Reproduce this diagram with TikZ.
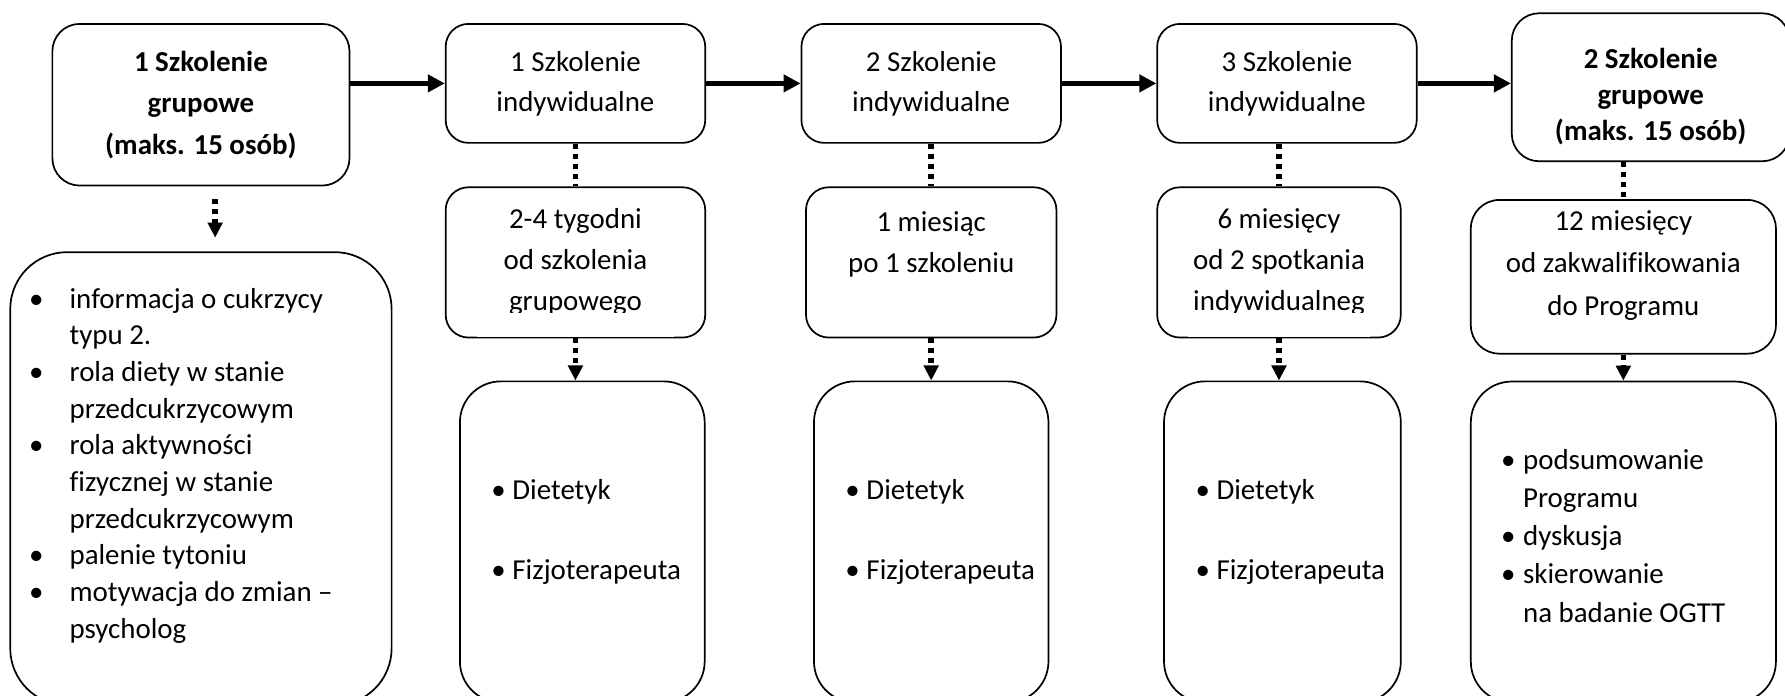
\documentclass[tikz,border=0pt]{standalone}
\usepackage{fontspec}
\setmainfont{Carlito}[Ligatures=NoCommon]
\usetikzlibrary{arrows.meta, positioning, calc}
\newcommand{\itm}[1]{\makebox[#1][l]{\textbullet}}

\begin{document}
\begin{tikzpicture}[
    x=0.5pt, y=-0.5pt,
    >={Triangle[length=7.5pt, width=7.5pt]},
    box/.style={draw, line width=0.75pt, rounded corners=10pt, align=center, inner sep=0pt},
    grpbox/.style={box, rounded corners=12pt, font=\bfseries\fontsize{12.7}{18.3}\selectfont},
    indbox/.style={box, minimum width=114pt, minimum height=52.25pt, font=\fontsize{12.7}{17.5}\selectfont},
    timebox/.style={box, minimum height=66pt, font=\fontsize{12.7}{18}\selectfont},
    listbox/.style={draw, line width=0.75pt, rounded corners=18pt, minimum height=141pt},
    list/.style={inner sep=0pt, anchor=north west, align=left, font=\fontsize{12.7}{16.1}\selectfont},
    flow/.style={->, line width=2.4pt},
    dotline/.style={line width=2.5pt, dash pattern=on 2.2pt off 2.2pt},
    dotflow/.style={dotline, -{Triangle[length=6.6pt, width=6.3pt]}},
    cut/.style={fill=white}
  ]
  \useasboundingbox (0,0) rectangle (1568,611);

  % top row
  \node[grpbox, minimum width=130.5pt, minimum height=71pt] (b1) at (176.5,92) {1 Szkolenie\\grupowe\\(maks. 15 osób)};
  \node[indbox, right=41.5pt of b1.north east, anchor=north west] (b2) {1 Szkolenie\\indywidualne};
  \node[indbox, right=41.5pt of b2] (b3) {2 Szkolenie\\indywidualne};
  \node[indbox, right=41.5pt of b3] (b4) {3 Szkolenie\\indywidualne};
  \node[grpbox, minimum width=122pt, minimum height=65pt, right=41pt of b4, yshift=-1.7pt] (b5) {};
  \node[font=\bfseries\fontsize{12.7}{15.75}\selectfont, align=center, inner sep=0pt] (b5txt) at ([yshift=-4pt]b5.center) {2 Szkolenie\\grupowe\\(maks. 15 osób)};

  % middle row
  \node[timebox, minimum width=114pt, below=18.75pt of b2] (c2) {2-4 tygodni\\od szkolenia\\grupowego};
  \node[timebox, minimum width=110pt, below=18.75pt of b3] (c3) {1 miesiąc\\po 1 szkoleniu\\\mbox{}};
  \node[timebox, minimum width=107pt, below=18.75pt of b4, xshift=-3.5pt] (c4) {6 miesięcy\\od 2 spotkania\\indywidualneg};
  \node[timebox, rounded corners=12.5pt, minimum width=134pt, minimum height=67.5pt, below=16.25pt of b5, xshift=-12pt] (c5) {};
  \node[font=\fontsize{12.7}{18.5}\selectfont, align=center, inner sep=0pt] (c5txt) at ([yshift=5pt]c5.center) {12 miesięcy\\od zakwalifikowania\\do Programu};

  % last lines of c2 and c4 are cut at the baseline
  \fill[cut] ([xshift=14pt, yshift=0.5pt]c2.south west) rectangle ([xshift=-14pt, yshift=11pt]c2.south east);
  \fill[cut] ([xshift=14pt, yshift=0.5pt]c4.south west) rectangle ([xshift=-14pt, yshift=11pt]c4.south east);

  % bottom row
  \node[listbox, rounded corners=25pt, minimum width=167.5pt, minimum height=199pt, below=28.5pt of b1] (l1) {};
  \node[listbox, minimum width=107.5pt, below=18.5pt of c2, xshift=3pt] (d2) {};
  \node[listbox, minimum width=103pt, below=18.5pt of c3] (d3) {};
  \node[listbox, minimum width=104pt, below=18.5pt of c4, xshift=1.5pt] (d4) {};
  \node[listbox, minimum width=134pt, below=11.5pt of c5] (d5) {};

  \node[list] (l1txt) at ($(l1.north west)+(8.5pt,-13.5pt)$) {\begin{tabular}{@{}l@{}}
    \itm{17.75pt}informacja o cukrzycy\\
    \hspace*{17.75pt}typu 2.\\
    \itm{17.75pt}rola diety w stanie\\
    \hspace*{17.75pt}przedcukrzycowym\\
    \itm{17.75pt}rola aktywności\\
    \hspace*{17.75pt}fizycznej w stanie\\
    \hspace*{17.75pt}przedcukrzycowym\\
    \itm{17.75pt}palenie tytoniu\\
    \itm{17.75pt}motywacja do zmian –\\
    \hspace*{17.75pt}psycholog
  \end{tabular}};
  \node[list] (d2txt) at ($(d2.north west)+(14pt,-40.75pt)$) {\begin{tabular}{@{}l@{}}
    \itm{9.25pt}Dietetyk\\[18.9pt]
    \itm{9.25pt}Fizjoterapeuta
  \end{tabular}};
  \node[list] (d3txt) at ($(d3.north west)+(14pt,-40.75pt)$) {\begin{tabular}{@{}l@{}}
    \itm{9.25pt}Dietetyk\\[18.9pt]
    \itm{9.25pt}Fizjoterapeuta
  \end{tabular}};
  \node[list] (d4txt) at ($(d4.north west)+(14pt,-40.75pt)$) {\begin{tabular}{@{}l@{}}
    \itm{9.25pt}Dietetyk\\[18.9pt]
    \itm{9.25pt}Fizjoterapeuta
  \end{tabular}};
  \node[list, font=\fontsize{12.7}{16.7}\selectfont] (d5txt) at ($(d5.north west)+(13.5pt,-27.3pt)$) {\begin{tabular}{@{}l@{}}
    \itm{9.65pt}podsumowanie\\
    \hspace*{9.65pt}Programu\\
    \itm{9.65pt}dyskusja\\
    \itm{9.65pt}skierowanie\\
    \hspace*{9.65pt}na badanie OGTT
  \end{tabular}};

  % connectors
  \draw[flow] (b1.east |- b2.west) -- (b2.west);
  \draw[flow] (b2) -- (b3);
  \draw[flow] (b3) -- (b4);
  \draw[flow] (b4) -- (b4 -| b5.west);

  \draw[dotflow, shorten <=5.5pt, shorten >=6pt] ([xshift=6.25pt]b1.south) -- ([xshift=6.25pt]b1.south |- l1.north);
  \draw[dotline] (b2) -- (c2);
  \draw[dotline] (b3) -- (c3);
  \draw[dotline] (c4.north |- b4.south) -- (c4.north);
  \draw[dotline] (c5.north |- b5.south) -- (c5.north);
  \draw[dotflow] (c2.south) -- (c2.south |- d2.north);
  \draw[dotflow] (c3.south) -- (c3.south |- d3.north);
  \draw[dotflow] (c4.south) -- (c4.south |- d4.north);
  \draw[dotflow] (c5.south) -- (c5.south |- d5.north);
\end{tikzpicture}
\end{document}
